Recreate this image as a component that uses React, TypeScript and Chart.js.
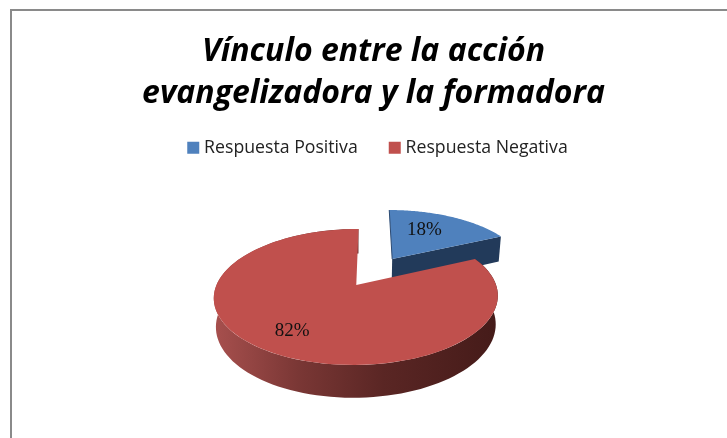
import React, { useEffect, useRef } from "react";
import { Chart, registerables } from "chart.js";

Chart.register(...registerables);

const categories = ["Respuesta Positiva", "Respuesta Negativa"];
const values = [18, 82];
const colors = ["#4F81BD", "#C0504D"];
const titleLines = ["Vínculo entre la acción", "evangelizadora y la formadora"];

// Projection of the flat pie disc on to the tilted view
const P = { x0: 355.8, y0: 285, ax: 139.8, ay: 65.9, k: -0.176, skew: -0.04, midY: 297, depth: 28, shrink: 0.985, explode: 0.5 };
const LABEL_RADIUS = [0.62, 0.74];
const LABEL_TURN = [-0.09, 0];
const LEGEND_SHIFT = 6;

function project(u: number, v: number, low = false) {
  const w = 1 + P.k * v;
  const s = low ? P.shrink : 1;
  const flatY = P.y0 + (P.ay * v * s) / w;
  return {
    x: P.x0 + (P.ax * u * s) / w + P.skew * (flatY - P.midY),
    y: flatY + (low ? P.depth / w : 0),
  };
}

const pie3d = {
  id: "pie3d",
  afterLayout(chart: any) {
    chart.legend.left += LEGEND_SHIFT;
    chart.legend.right += LEGEND_SHIFT;
  },
  beforeDraw(chart: any) {
    const { ctx, width, height } = chart;
    ctx.save();
    ctx.fillStyle = "#ffffff";
    ctx.fillRect(0, 0, width, height);
    ctx.fillStyle = "#8A8A8A";
    ctx.fillRect(10, 9, width - 10, 2);
    ctx.fillRect(10, 9, 2, height - 9);
    ctx.restore();
  },
  beforeDatasetsDraw(chart: any) {
    const { ctx } = chart;
    const arcs = chart.getDatasetMeta(0).data;
    const geom = arcs.map((a: any, i: number) => {
      const mid = (a.startAngle + a.endAngle) / 2;
      const offset = i === 0 ? P.explode : 0;
      return {
        a,
        mid,
        ou: Math.cos(mid) * offset,
        ov: Math.sin(mid) * offset,
      };
    });
    const at = (g: any, ang: number, r = 1, low = false) =>
      project(g.ou + Math.cos(ang) * r, g.ov + Math.sin(ang) * r, low);
    const outline = (g: any, low = false) => {
      const pts = [at(g, 0, 0, low)];
      const n = 90;
      for (let j = 0; j <= n; j++) {
        pts.push(at(g, g.a.startAngle + ((g.a.endAngle - g.a.startAngle) * j) / n, 1, low));
      }
      ctx.beginPath();
      pts.forEach((p, j) => (j ? ctx.lineTo(p.x, p.y) : ctx.moveTo(p.x, p.y)));
      ctx.closePath();
    };

    ctx.save();
    // Exploded slice: cut wall, then top
    const b = geom[0];
    const tip = at(b, b.a.endAngle);
    const tipLow = at(b, b.a.endAngle, 1, true);
    const ap = at(b, 0, 0);
    const apLow = at(b, 0, 0, true);
    ctx.fillStyle = "#223A5A";
    ctx.beginPath();
    ctx.moveTo(ap.x, ap.y);
    ctx.lineTo(tip.x, tip.y);
    ctx.lineTo(tipLow.x, tipLow.y);
    ctx.lineTo(apLow.x, apLow.y);
    ctx.closePath();
    ctx.fill();
    outline(b);
    ctx.fillStyle = colors[0];
    ctx.fill();
    const top = at(b, b.a.startAngle);
    ctx.strokeStyle = "#2C4A72";
    ctx.lineWidth = 1;
    ctx.beginPath();
    ctx.moveTo(top.x, top.y);
    ctx.lineTo(ap.x, ap.y);
    ctx.stroke();

    // Large slice: outer wall, then top
    const r = geom[1];
    const grad = ctx.createLinearGradient(213, 0, 497, 0);
    grad.addColorStop(0, "#A8504E");
    grad.addColorStop(0.3, "#7A3735");
    grad.addColorStop(0.6, "#5A2624");
    grad.addColorStop(1, "#451B19");
    const n = 120;
    const s = r.a.startAngle;
    const e = r.a.endAngle;
    ctx.beginPath();
    for (let j = 0; j <= n; j++) {
      const p = at(r, s + ((e - s) * j) / n);
      j ? ctx.lineTo(p.x, p.y) : ctx.moveTo(p.x, p.y);
    }
    for (let j = n; j >= 0; j--) {
      const p = at(r, s + ((e - s) * j) / n, 1, true);
      ctx.lineTo(p.x, p.y);
    }
    ctx.closePath();
    ctx.fillStyle = grad;
    ctx.fill();
    outline(r);
    ctx.fillStyle = colors[1];
    ctx.fill();

    // Value labels
    ctx.fillStyle = "#111111";
    ctx.font = "19px 'Liberation Serif'";
    ctx.textAlign = "center";
    ctx.textBaseline = "middle";
    geom.forEach((g: any, i: number) => {
      const p = at(g, g.mid + LABEL_TURN[i], LABEL_RADIUS[i]);
      ctx.fillText(values[i] + "%", p.x, p.y);
    });
    ctx.restore();
    return false;
  },
};

export default function App() {
  const ref = useRef<HTMLCanvasElement>(null);
  useEffect(() => {
    const chart = new Chart(ref.current!, {
      type: "pie",
      data: {
        labels: categories,
        datasets: [{ data: values, backgroundColor: colors, borderWidth: 0 }],
      },
      options: {
        animation: false,
        responsive: false,
        layout: { padding: { top: 31, left: 20, right: 0, bottom: 10 } },
        plugins: {
          title: {
            display: true,
            text: titleLines,
            color: "#000000",
            font: { family: "'Open Sans'", size: 32, weight: "bold", style: "italic", lineHeight: 1.31 },
            padding: { top: 0, bottom: -11 },
          },
          legend: {
            position: "top",
            labels: {
              color: "#222222",
              boxWidth: 4,
              boxHeight: 4,
              padding: 35,
              font: { family: "'Open Sans'", size: 17.7 },
              generateLabels: () =>
                categories.map((text, i) => ({
                  text,
                  fillStyle: colors[i],
                  strokeStyle: colors[i],
                  lineWidth: 8,
                  fontColor: "#222222",
                  hidden: false,
                  index: i,
                })),
            },
          },
          tooltip: { enabled: false },
        },
      },
      plugins: [pie3d],
    } as any);
    return () => chart.destroy();
  }, []);
  return (
    <div style={{ position: "absolute", left: 0, top: 0, width: 727, height: 438 }}>
      <canvas ref={ref} width={727} height={438} style={{ display: "block" }} />
    </div>
  );
}
